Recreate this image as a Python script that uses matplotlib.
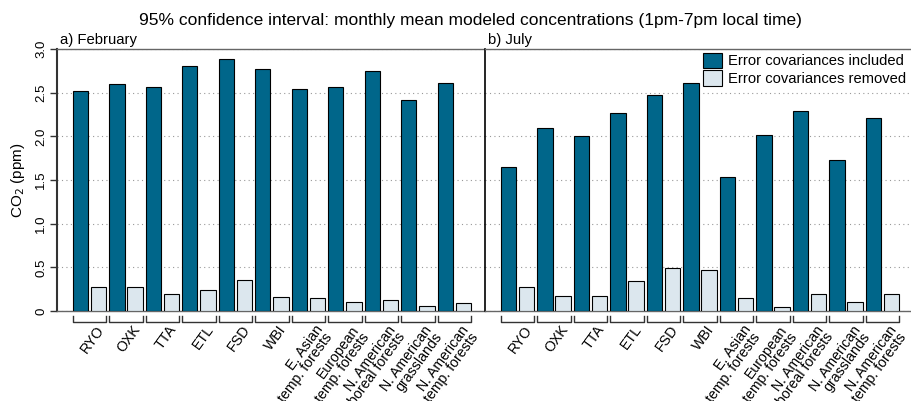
import matplotlib
matplotlib.use("Agg")
import matplotlib.pyplot as plt
import matplotlib.transforms as mtransforms
from matplotlib.patches import Patch
import numpy as np

plt.rcParams['font.family'] = ['Liberation Sans', 'DejaVu Sans']

sites = ["RYO", "OXK", "TTA", "ETL", "FSD", "WBI",
         "E. Asian\ntemp. forests", "European\ntemp. forests",
         "N. American\nboreal forests", "N. American\ngrasslands",
         "N. American\ntemp. forests"]

feb_included = [2.52, 2.60, 2.57, 2.81, 2.88, 2.77, 2.54, 2.56, 2.75, 2.42, 2.61]
feb_removed = [0.275, 0.28, 0.20, 0.24, 0.36, 0.155, 0.145, 0.10, 0.13, 0.055, 0.095]
jul_included = [1.65, 2.10, 2.00, 2.27, 2.47, 2.61, 1.54, 2.01, 2.29, 1.73, 2.21]
jul_removed = [0.275, 0.175, 0.175, 0.345, 0.49, 0.465, 0.15, 0.05, 0.195, 0.10, 0.20]

dark = "#00668a"
light = "#dce7ee"

W, H = 911, 401
fig = plt.figure(figsize=(W / 100, H / 100), dpi=100)
bottom = (H - 311) / H
height = (311 - 49) / H
ax1 = fig.add_axes([57 / W, bottom, (485 - 57) / W, height])
ax2 = fig.add_axes([485 / W, bottom, (911 - 485) / W, height])

x = np.arange(len(sites))
bw = 0.42

for ax, inc, rem, title in [(ax1, feb_included, feb_removed, "a) February"),
                            (ax2, jul_included, jul_removed, "b) July")]:
    ax.bar(x - 0.25, inc, width=bw, color=dark, edgecolor="black", linewidth=0.8, zorder=3)
    ax.bar(x + 0.25, rem, width=bw, color=light, edgecolor="black", linewidth=0.8, zorder=3)
    ax.set_ylim(0, 3.0)
    ax.grid(axis="y", linestyle=(0, (1, 3)), color="#999999", linewidth=0.8, zorder=0)
    ax.set_xticks([])
    ax.text(0.008, 1.008, title, transform=ax.transAxes, fontsize=10.7, ha="left", va="bottom")

    for s in ["top", "bottom"]:
        ax.spines[s].set_color("#666666")
        ax.spines[s].set_linewidth(1.0)

    # brackets and labels under each group
    trans = mtransforms.blended_transform_factory(ax.transData, ax.transAxes)
    for i, lab in enumerate(sites):
        x0, x1 = i - 0.46, i + 0.46
        ax.plot([x0, x0, x1, x1], [-0.02, -0.042, -0.042, -0.02], color="#333333",
                linewidth=1.0, transform=trans, clip_on=False)
        ax.text(i + 0.16, -0.046, lab, transform=trans, rotation=54, rotation_mode="anchor",
                ha="right", va="top", multialignment="right", fontsize=10.2, linespacing=0.82)

ax1.set_xlim(-0.89, 10.84)
ax2.set_xlim(-0.89, 10.78)

ax1.set_yticks(np.arange(0, 3.01, 0.5))
ax1.spines["right"].set_visible(False)
ax1.spines["left"].set_color("#333333")
ax1.spines["left"].set_linewidth(1.5)
ax1.tick_params(axis="y", direction="out", length=5, width=1.0, color="#333333",
                labelsize=9.5, labelrotation=90, pad=2)
ax1.set_yticklabels(["0", "0.5", "1.0", "1.5", "2.0", "2.5", "3.0"], va="center")
ax1.set_ylabel("CO$_2$ (ppm)", fontsize=11, labelpad=6)

ax2.spines["left"].set_color("black")
ax2.spines["left"].set_linewidth(1.2)
ax2.spines["right"].set_visible(False)
ax2.set_yticks(np.arange(0, 3.01, 0.5), labels=[""] * 7)
ax2.tick_params(axis="y", length=0)

handles = [Patch(facecolor=dark, edgecolor="black", linewidth=0.8),
           Patch(facecolor=light, edgecolor="black", linewidth=0.8)]
ax2.legend(handles, ["Error covariances included", "Error covariances removed"],
           loc="upper right", bbox_to_anchor=(1.012, 1.025), frameon=False, fontsize=10.6,
           handlelength=1.25, handleheight=1.25, handletextpad=0.4, labelspacing=0.12,
           borderpad=0.2)

fig.text(470 / W, 0.95, "95% confidence interval: monthly mean modeled concentrations (1pm-7pm local time)",
         ha="center", va="center", fontsize=12.5)

fig.savefig("out.png", dpi=100)
